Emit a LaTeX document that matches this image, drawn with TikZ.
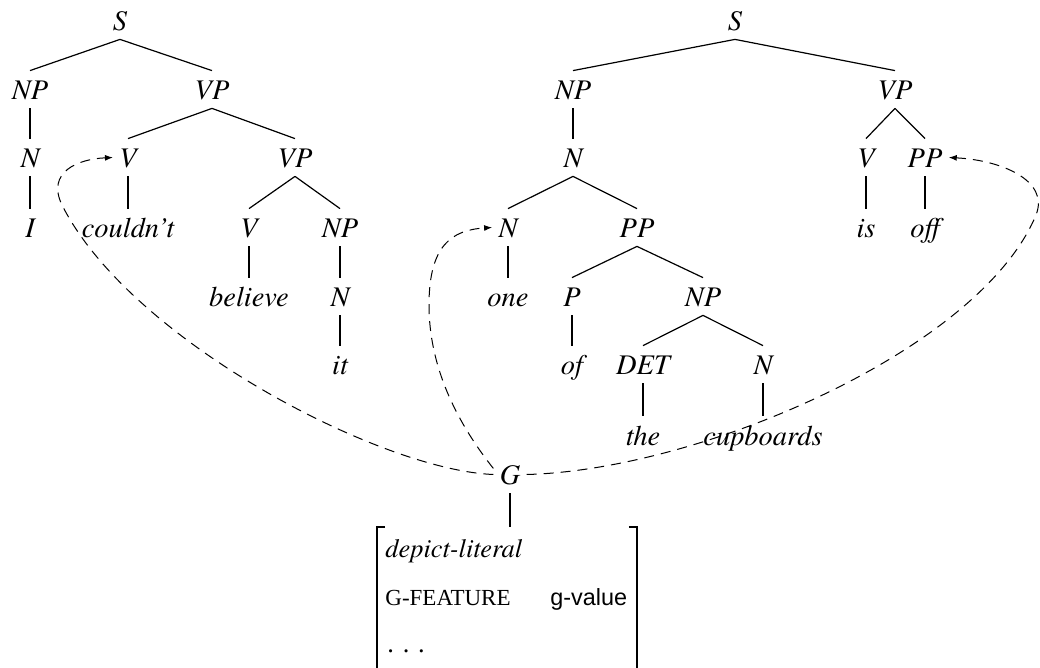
\documentclass[tikz,border=0pt]{standalone}
\usepackage{fontspec}
\setmainfont{texgyretermes}[
  Extension=.otf,
  UprightFont=*-regular,
  ItalicFont=*-italic,
  BoldFont=*-bold,
  BoldItalicFont=*-bolditalic]
\newfontfamily\featfont{Liberation Serif}
\newfontfamily\gvaluefont{Liberation Sans}
\usetikzlibrary{arrows.meta}

\tikzset{
  lbl/.style={font=\fontsize{14.2}{17}\selectfont\itshape, inner xsep=3pt,
    inner ysep=0pt, text height=14.5pt, text depth=4pt, anchor=base},
  branch/.style={line width=0.6pt},
  link/.style={line width=0.5pt, dash pattern=on 5pt off 3.5pt,
    -{Latex[length=4pt,width=3pt]}},
  bracket/.style={line width=0.9pt},
  avmtext/.style={anchor=base west, inner sep=0pt},
}

\begin{document}
\begin{tikzpicture}[x=0.5pt,y=-0.5pt]
\useasboundingbox (0,0) rectangle (1040,668);

% first sentence
\node[lbl] (S1)      at (120,31)  {S};
\node[lbl] (NP1)     at (30,100)  {NP};
\node[lbl] (VP1)     at (212,100) {VP};
\node[lbl] (N1)      at (30,168)  {N};
\node[lbl] (V1)      at (128,168) {V};
\node[lbl] (VP2)     at (295,168) {VP};
\node[lbl] (I)       at (30,238)  {I};
\node[lbl] (couldnt) at (128,238) {couldn’t};
\node[lbl] (V2)      at (249,238) {V};
\node[lbl] (NP2)     at (340,238) {NP};
\node[lbl] (believe) at (249,307) {believe};
\node[lbl] (N2)      at (340,307) {N};
\node[lbl] (it)      at (340,375) {it};

\foreach \a/\b in {S1/NP1, S1/VP1, NP1/N1, N1/I, VP1/V1, VP1/VP2, V1/couldnt,
                   VP2/V2, VP2/NP2, V2/believe, NP2/N2, N2/it}
  \draw[branch] (\a.south) -- (\b.north);

% second sentence
\node[lbl] (S2)        at (735,31)  {S};
\node[lbl] (NP3)       at (573,100) {NP};
\node[lbl] (VP3)       at (895,100) {VP};
\node[lbl] (N3)        at (573,168) {N};
\node[lbl] (V3)        at (866,168) {V};
\node[lbl] (PP1)       at (925,168) {PP};
\node[lbl] (N4)        at (508,238) {N};
\node[lbl] (PP2)       at (637,238) {PP};
\node[lbl] (is)        at (866,238) {is};
\node[lbl] (off)       at (925,238) {off};
\node[lbl] (one)       at (508,307) {one};
\node[lbl] (P)         at (572,307) {P};
\node[lbl] (NP4)       at (703,307) {NP};
\node[lbl] (of)        at (572,375) {of};
\node[lbl] (DET)       at (643,375) {DET};
\node[lbl] (N5)        at (763,375) {N};
\node[lbl] (the)       at (643,445) {the};
\node[lbl] (cupboards) at (763,445) {cupboards};

\foreach \a/\b in {S2/NP3, S2/VP3, NP3/N3, N3/N4, N3/PP2, N4/one, PP2/P,
                   PP2/NP4, P/of, NP4/DET, NP4/N5, DET/the, N5/cupboards,
                   VP3/V3, VP3/PP1, V3/is, PP1/off}
  \draw[branch] (\a.south) -- (\b.north);

% gesture node and its feature structure
\node[lbl] (G) at (510,485) {G};
\node[anchor=north west, inner sep=0pt, minimum width=129.5pt,
      minimum height=75pt] (avm) at (377,527) {};
\draw[branch] (G.south) -- (G.south |- avm.north);
\draw[bracket] ([xshift=4pt]avm.north west) -- (avm.north west) -- (avm.south west);
\draw[bracket] ([xshift=-4pt]avm.north east) -- (avm.north east) -- (avm.south east);

\node[avmtext, font=\fontsize{13.2}{15}\selectfont\itshape] (dl) at (385,558) {depict-literal};
\node[avmtext, font=\featfont\fontsize{11.5}{13}\selectfont] (gf) at (385,605) {G-FEATURE};
\node[avmtext, font=\gvaluefont\fontsize{11.7}{13}\selectfont] (gv) at (550,605) {g-value};
\node[avmtext, font=\featfont\fontsize{13.2}{15}\selectfont] (dots) at (387,652) {. . .};

% dashed links from the gesture to its targets
\coordinate (w1) at (62,205);
\draw[link] (G.west) .. controls (380,470) and (130,340) .. (w1)
  .. controls (46,172) and (78,159) .. (V1.west);

\coordinate (w2) at (429,305);
\draw[link] (G.160) .. controls (455,420) and (429,365) .. (w2)
  .. controls (429,245) and (452,230) .. (N4.west);

\coordinate (w3) at (1036,215);
\draw[link] (G.east) .. controls (700,470) and (980,350) .. (w3)
  .. controls (1050,180) and (1000,160) .. (PP1.east);
\end{tikzpicture}
\end{document}
